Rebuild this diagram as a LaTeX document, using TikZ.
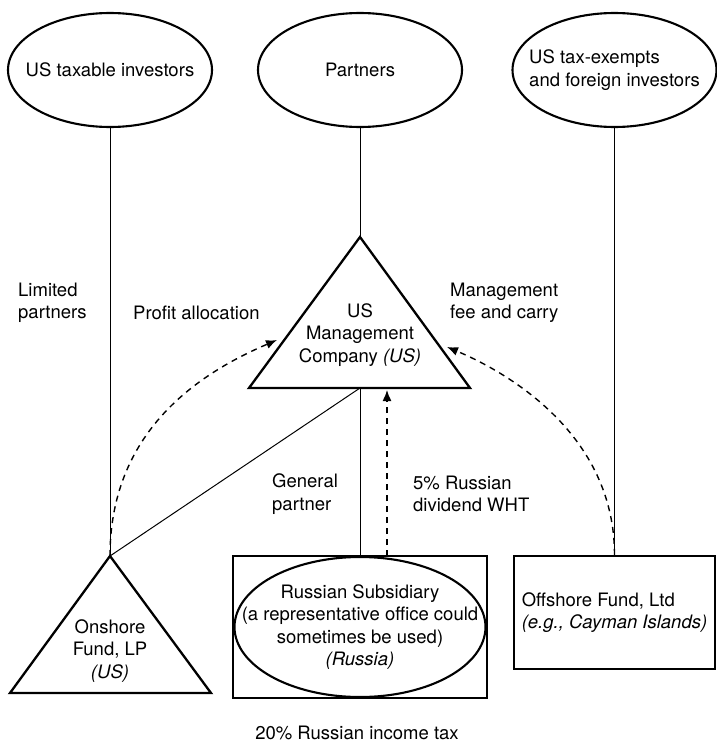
\documentclass[tikz,border=0pt]{standalone}
\usepackage{fontspec}
\setmainfont{TeX Gyre Heros}
\usetikzlibrary{shapes.geometric}
\usetikzlibrary{arrows.meta}

\begin{document}
\begin{tikzpicture}[x=1pt, y=-1pt, font=\fontsize{18.5}{22.3}\selectfont,
	holder/.style={draw, ellipse, line width=2.1pt, minimum width=204pt, minimum height=114pt, inner sep=0pt},
	fundbox/.style={draw, rectangle, line width=2.3pt, inner sep=0pt},
	link/.style={line width=1pt},
	flow/.style={line width=1.4pt, dash pattern=on 6pt off 5pt, -{Latex[length=11pt,width=9pt]}},
	txt/.style={align=center, inner sep=0pt},
	lbl/.style={align=left, anchor=west, inner sep=0pt}]
	\useasboundingbox (0,0) rectangle (716,744);
	% investors
	\node[holder] (inv)  at (110,70)   {};
	\node[holder] (part) at (360,70)   {};
	\node[holder] (forn) at (614.5,70) {};
	\node[txt] (invtxt)  at (inv)  {US taxable investors};
	\node[txt] (parttxt) at (part) {Partners};
	\node[txt, align=left] (forntxt) at (forn) {US tax-exempts\\and foreign investors};
	% management company
	\node[shape=coordinate] (mgmttop)  at (360,237) {};
	\node[shape=coordinate] (mgmtl)    at (249,388) {};
	\node[shape=coordinate] (mgmtr)    at (470,388) {};
	\node[shape=coordinate] (mgmtbase) at (360,388) {};
	\node[txt] (mgmt) at (360,335) {US\\Management\\Company \textit{(US)}};
	% onshore fund
	\node[shape=coordinate] (onshtop) at (110,556) {};
	\node[shape=coordinate] (onshl)   at (10,693) {};
	\node[shape=coordinate] (onshr)   at (211,693) {};
	\node[txt] (onsh) at (110,651) {Onshore\\Fund, LP\\\textit{(US)}};
	% russian subsidiary and offshore fund
	\node[fundbox, minimum width=254pt, minimum height=142pt] (russbox) at (360,627) {};
	\node[draw, ellipse, line width=2.1pt, minimum width=251pt, minimum height=140pt, inner sep=0pt] (russ) at (360,627) {};
	\node[txt] (russtxt) at (russ) {Russian Subsidiary\\(a representative office could\\sometimes be used)\\\textit{(Russia)}};
	\node[fundbox, align=left, minimum width=201pt, minimum height=113pt] (off) at (614.5,612.5)
		{Offshore Fund, Ltd\\\textit{(e.g., Cayman Islands)}};
	\node[shape=coordinate] (whtfoot) at (387,556) {};
	\node[shape=coordinate] (whttip)  at (387,390) {};
	\node[shape=coordinate] (proftip) at (277,340) {};
	\node[shape=coordinate] (feetip)  at (447,347) {};
	% labels
	\node[lbl] (lp)   at (18,302.5)  {Limited\\partners};
	\node[lbl] (prof) at (133,313)   {Profit allocation};
	\node[lbl] (fee)  at (450,302.5) {Management\\fee and carry};
	\node[lbl] (gp)   at (272,494)   {General\\partner};
	\node[lbl] (wht)  at (413,494)   {5\% Russian\\dividend WHT};
	\node (tax) at (357,733) {20\% Russian income tax};
	\begin{scope}[line width=2.3pt, line join=miter]
		\draw (mgmttop) -- (mgmtr) -- (mgmtl) -- cycle;
		\draw (onshtop) -- (onshr) -- (onshl) -- cycle;
	\end{scope}
	\draw[link] (inv) -- (onshtop);
	\draw[link] (part) -- (mgmttop);
	\draw[link] (forn) -- (off);
	\draw[link] (mgmtbase) -- (russbox);
	\draw[link] (mgmtbase) -- (onshtop);
	\draw[flow] (whtfoot) -- (whttip);
	\draw[flow] (onshtop) .. controls +(0,-130) and +(-70,30) .. (proftip);
	\draw[flow] (off.north) .. controls +(0,-120) and +(62,26) .. (feetip);
\end{tikzpicture}
\end{document}
